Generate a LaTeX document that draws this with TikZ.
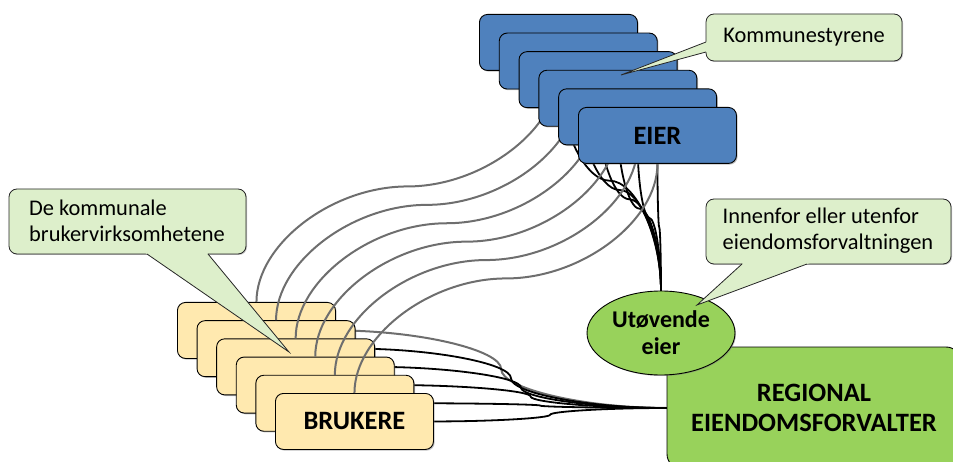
\documentclass[tikz,border=0pt]{standalone}
\usepackage{fontspec}
\setmainfont{Carlito}
\usetikzlibrary{calc,shapes.geometric,shadows}
\pgfdeclarelayer{wires}
\pgfdeclarelayer{front}
\pgfsetlayers{wires,main,front}

\definecolor{eierblue}{HTML}{4F81BD}
\definecolor{brukeryellow}{HTML}{FFE9AF}
\definecolor{notegreen}{HTML}{DDEFCB}
\definecolor{forvaltergreen}{HTML}{98D25B}
\definecolor{wiregrey}{HTML}{6E6E6E}

% S-shaped connector leaving and entering vertically, horizontal in the middle
\newcommand\vlink[3][]{%
  \path ($(#2)!0.5!(#3)$) coordinate (lkm)
        ($(#2)!0.25!(#3)$) coordinate (lkq)
        ($(#2)!0.75!(#3)$) coordinate (lkr);
  \draw[#1] (#2) .. controls (#2 |- lkq) and (lkq |- lkm) .. (lkm)
                 .. controls (lkr |- lkm) and (#3 |- lkr) .. (#3);}
% S-shaped connector leaving and entering horizontally, vertical in the middle
\newcommand\hlink[3][]{%
  \path ($(#2)!0.5!(#3)$) coordinate (lkm)
        ($(#2)!0.25!(#3)$) coordinate (lkq)
        ($(#2)!0.75!(#3)$) coordinate (lkr);
  \draw[#1] (#2) .. controls (lkq |- #2) and (lkm |- lkq) .. (lkm)
                 .. controls (lkm |- lkr) and (lkr |- #3) .. (#3);}
% pointer of a speech bubble: base points #1, #2 on the bubble edge, tip #3
\newcommand\notebeak[3]{%
  \fill[notegreen] ($(#3)!1.06!(#1)$) -- (#3) -- ($(#3)!1.06!(#2)$) -- cycle;
  \draw[noteline] (#1) -- (#3) -- (#2);}

\tikzset{
  card/.style={draw=black, line width=0.9pt, rounded corners=8pt,
    minimum width=158pt, minimum height=56pt, inner sep=0pt, anchor=north west,
    drop shadow={shadow xshift=1.2pt, shadow yshift=-1.2pt, opacity=0.5}},
  eiercard/.style={card, fill=eierblue},
  brukercard/.style={card, fill=brukeryellow},
  heavy/.style={font=\fontsize{26.5}{30}\selectfont\bfseries},
  noteline/.style={draw=black!85, line width=0.8pt},
  note/.style={noteline, fill=notegreen, rounded corners=8pt,
    drop shadow={shadow xshift=1pt, shadow yshift=-1pt, opacity=0.45}},
  notetext/.style={font=\fontsize{22.4}{26}\selectfont, align=left, inner sep=0pt},
  greywire/.style={draw=wiregrey, line width=2pt},
  blackwire/.style={draw=black, line width=1.8pt},
  forvalter/.style={draw=black, line width=0.9pt, fill=forvaltergreen,
    rounded corners=15pt, minimum width=294pt, minimum height=122pt,
    inner sep=0pt, align=center, font=\fontsize{26.5}{30}\selectfont\bfseries},
  utovende/.style={ellipse, draw=black, line width=0.9pt, fill=forvaltergreen,
    minimum width=148pt, minimum height=84pt, inner sep=0pt, align=center,
    font=\fontsize{24}{27}\selectfont\bfseries,
    drop shadow={shadow xshift=1pt, shadow yshift=-1pt, opacity=0.5}},
}

\begin{document}
\begin{tikzpicture}[x=1pt,y=-1pt]
\useasboundingbox (0,0) rectangle (953,462);

% regional estate manager and the executing owner
\node[forvalter] (g) at (814,408) {REGIONAL\\EIENDOMSFORVALTER};
\node[utovende] (u) at (661,333) {Utøvende\\eier};

% stack of user units
\foreach \k in {1,...,5} {
  \node[brukercard] (y\k) at ({177+19.6*(\k-1)},{302+18.2*(\k-1)}) {};
}
\node[brukercard, heavy] (y6) at (275,393) {BRUKERE};

% stack of owners (municipal councils)
\begin{pgfonlayer}{front}
\foreach \k in {1,...,5} {
  \node[eiercard] (b\k) at ({479+19.8*(\k-1)},{14+18.6*(\k-1)}) {};
}
\node[eiercard, heavy] (b6) at (578,107) {EIER};
\end{pgfonlayer}

% links behind the boxes
\begin{pgfonlayer}{wires}
\hlink[greywire]{y1.east}{g.west}
\foreach \k in {2,...,6} {\hlink[blackwire]{y\k.east}{g.west}}
\foreach \k in {1,...,6} {\vlink[blackwire]{b\k.south}{u.north}}
\end{pgfonlayer}

% owner--user links
\foreach \k in {1,...,6} {\vlink[greywire]{y\k.north}{b\k.south}}

% speech bubbles
\begin{pgfonlayer}{front}
\draw[note] (706,14) rectangle (902,61);
\notebeak{706,42}{706,52}{621,75}
\node[notetext] (n1) at (804,37.5) {Kommunestyrene};

\draw[note] (9,189) rectangle (246,254);
\notebeak{147,254}{208,254}{289,352}
\node[notetext] (n2) at (127,221) {De kommunale\\brukervirksomhetene};

\draw[note] (706,199) rectangle (951,264);
\notebeak{742,264}{807,264}{697,305}
\node[notetext] (n3) at (828,231) {Innenfor eller utenfor\\eiendomsforvaltningen};
\end{pgfonlayer}
\end{tikzpicture}
\end{document}
